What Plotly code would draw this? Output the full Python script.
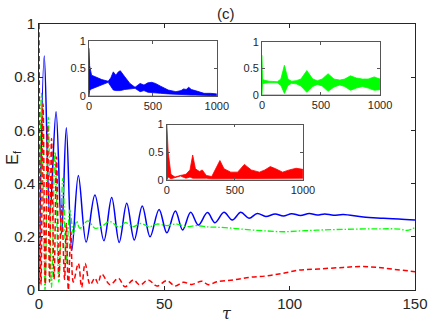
import plotly.graph_objects as go

# main panel: peaks / troughs
tau_blue = [0, 2.1, 4.3, 6.8, 9.0, 10.9, 13.1, 15.7, 18.8, 22.3, 25.9, 29.0, 32.0, 35.0, 38.0,
            41.2, 44.3, 47.9, 51.0, 54.4, 57.3, 60.5, 63.6, 67.2, 70.2, 73.8, 77.1, 80.5, 83.8,
            87.1, 90.5, 94.2, 97.5, 100.8, 104.3, 107.8, 111.0, 114.0, 117.5, 121.4, 129.4,
            137.4, 143.5, 150]
ef_blue = [0, 0.88, 0.28, 0.67, 0.21, 0.61, 0.15, 0.43, 0.18, 0.357, 0.185, 0.348, 0.179, 0.326,
           0.188, 0.316, 0.2, 0.303, 0.215, 0.297, 0.226, 0.292, 0.244, 0.291, 0.253, 0.292,
           0.263, 0.292, 0.27, 0.288, 0.276, 0.286, 0.278, 0.287, 0.28, 0.288, 0.282, 0.286,
           0.281, 0.284, 0.274, 0.27, 0.267, 0.263]

tau_green = [0, 1.0, 2.4, 3.7, 5.0, 6.4, 7.9, 9.5, 10.9, 12.3, 13.8, 15.0, 16.3, 19.5, 22.4,
             25.0, 28.3, 32.0, 34.5, 37.6, 40.5, 44.3, 47.0, 51.0, 55.0, 59.0, 63.0, 67.6, 71.0,
             77.6, 84.2, 91.0, 97.5, 104.0, 110.8, 121.4, 134.8, 144.0, 146.7, 148.5, 150]
ef_green = [0, 0.74, 0.0, 0.65, 0.01, 0.52, 0.03, 0.42, 0.10, 0.30, 0.21, 0.26, 0.232, 0.26,
            0.232, 0.24, 0.257, 0.236, 0.253, 0.238, 0.25, 0.238, 0.248, 0.242, 0.248, 0.238,
            0.242, 0.237, 0.236, 0.232, 0.226, 0.222, 0.219, 0.222, 0.225, 0.228, 0.23, 0.229,
            0.224, 0.228, 0.236]

tau_red = [0, 0.8, 1.6, 2.5, 3.4, 4.2, 5.0, 6.0, 7.0, 8.0, 9.0, 10.2, 10.9, 11.7, 12.7, 13.7,
           15.7, 17.0, 18.4, 20.4, 22.3, 23.5, 25.0, 28.3, 31.7, 34.3, 37.6, 40.3, 43.6, 47.0,
           51.0, 54.3, 57.6, 61.0, 65.0, 67.5, 71.0, 77.6, 84.2, 90.9, 97.5, 104.0, 111.5,
           121.4, 128.1, 134.8, 141.4, 150]
ef_red = [1.0, 0.02, 0.70, 0.02, 0.62, 0.03, 0.57, 0.04, 0.50, 0.05, 0.32, 0.04, 0.25, 0.0,
          0.22, 0.03, 0.10, 0.01, 0.10, 0.02, 0.045, 0.025, 0.06, 0.02, 0.044, 0.012, 0.038,
          0.019, 0.038, 0.015, 0.035, 0.015, 0.029, 0.021, 0.033, 0.02, 0.031, 0.038, 0.048,
          0.053, 0.063, 0.075, 0.079, 0.085, 0.088, 0.085, 0.078, 0.069]

# insets: upper / lower envelope of the fast oscillation
t_in_blue = [0, 5, 20, 60, 100, 150, 170, 190, 210, 230, 245, 280, 320, 360, 400, 430, 460,
             490, 520, 560, 620, 680, 720, 740, 760, 780, 800, 830, 900, 950, 1000]
up_in_blue = [0.87, 0.55, 0.38, 0.34, 0.3, 0.27, 0.33, 0.44, 0.38, 0.44, 0.46, 0.35, 0.23,
              0.16, 0.23, 0.2, 0.24, 0.25, 0.23, 0.18, 0.11, 0.08, 0.1, 0.13, 0.12, 0.16,
              0.12, 0.1, 0.05, 0.05, 0.04]
lo_in_blue = [0.0, 0.1, 0.13, 0.17, 0.2, 0.25, 0.18, 0.11, 0.1, 0.1, 0.1, 0.12, 0.13, 0.14,
              0.08, 0.1, 0.07, 0.06, 0.06, 0.05, 0.04, 0.03, 0.02, 0.02, 0.02, 0.02, 0.02,
              0.02, 0.01, 0.01, 0.01]

t_in_green = [0, 5, 15, 60, 130, 160, 190, 220, 250, 290, 330, 380, 430, 470, 510, 560, 610,
              660, 700, 750, 800, 850, 900, 950, 1000]
up_in_green = [0.75, 0.3, 0.28, 0.26, 0.25, 0.3, 0.56, 0.3, 0.26, 0.27, 0.3, 0.46, 0.3, 0.27,
               0.3, 0.4, 0.3, 0.28, 0.3, 0.36, 0.32, 0.3, 0.3, 0.34, 0.3]
lo_in_green = [0.0, 0.2, 0.22, 0.23, 0.23, 0.18, 0.03, 0.18, 0.22, 0.21, 0.17, 0.05, 0.16,
               0.2, 0.17, 0.07, 0.15, 0.19, 0.16, 0.09, 0.13, 0.16, 0.13, 0.09, 0.1]

t_in_red = [0, 10, 30, 60, 100, 140, 170, 190, 210, 240, 260, 290, 330, 360, 390, 420, 470,
            520, 570, 620, 680, 720, 760, 800, 850, 900, 950, 1000]
up_in_red = [1.0, 0.5, 0.1, 0.05, 0.08, 0.1, 0.18, 0.45, 0.2, 0.15, 0.18, 0.08, 0.06, 0.2,
             0.35, 0.2, 0.14, 0.14, 0.28, 0.18, 0.14, 0.18, 0.24, 0.2, 0.14, 0.18, 0.21, 0.19]
lo_in_red = [0.0, 0.05, 0.02, 0.04, 0.07, 0.03, 0.05, 0.03, 0.03, 0.04, 0.04, 0.03, 0.02,
             0.02, 0.02, 0.03, 0.03, 0.03, 0.03, 0.03, 0.03, 0.03, 0.03, 0.03, 0.03, 0.03,
             0.03, 0.03]

BLUE, GREEN, RED = "#0000ff", "#00ff00", "#ff0000"
FONT = "Liberation Sans"
AX = "#262626"

fig = go.Figure()

fig.add_trace(go.Scatter(x=tau_blue, y=ef_blue, mode="lines", line_shape="spline",
                         line=dict(color=BLUE, width=1.5)))
fig.add_trace(go.Scatter(x=tau_green, y=ef_green, mode="lines", line_shape="spline",
                         line=dict(color=GREEN, width=1.3, dash="6px,2px,1.5px,2px")))
fig.add_trace(go.Scatter(x=tau_red, y=ef_red, mode="lines", line_shape="spline",
                         line=dict(color=RED, width=1.5, dash="5px,3px")))


def add_band(t, lo, up, color, ax):
    fig.add_trace(go.Scatter(x=t, y=lo, mode="lines", line=dict(color=color, width=0.8),
                             xaxis="x" + ax, yaxis="y" + ax))
    fig.add_trace(go.Scatter(x=t, y=up, mode="lines", line=dict(color=color, width=0.8),
                             fill="tonexty", fillcolor=color, xaxis="x" + ax, yaxis="y" + ax))


add_band(t_in_blue, lo_in_blue, up_in_blue, BLUE, "2")
add_band(t_in_green, lo_in_green, up_in_green, GREEN, "3")
add_band(t_in_red, lo_in_red, up_in_red, RED, "4")

main_ax = dict(showline=True, linecolor=AX, linewidth=1, mirror="ticks", ticks="inside",
               ticklen=4, tickcolor=AX, showgrid=False, zeroline=False, automargin=False,
               tickfont=dict(family=FONT, size=15, color=AX))
fig.update_layout(
    xaxis=dict(main_ax, range=[0, 150], tickvals=[0, 50, 100, 150], domain=[0, 1]),
    yaxis=dict(main_ax, range=[0, 1], tickvals=[0, 0.2, 0.4, 0.6, 0.8, 1],
               ticktext=["0", "0.2", "0.4", "0.6", "0.8", "1"], domain=[0, 1]),
)

insets = {"2": ([0.133, 0.473], [0.729, 0.936]),
          "3": ([0.593, 0.907], [0.733, 0.933]),
          "4": ([0.340, 0.702], [0.414, 0.622])}
for k, (dx, dy) in insets.items():
    small = dict(showline=True, linecolor="#555555", linewidth=0.8, mirror="ticks",
                 ticks="inside", ticklen=3, tickcolor="#555555", showgrid=False,
                 automargin=False, tickfont=dict(family=FONT, size=11, color=AX))
    fig.update_layout({
        "xaxis" + k: dict(small, domain=dx, range=[0, 1000], tickvals=[0, 500, 1000],
                          anchor="y" + k, zeroline=False),
        "yaxis" + k: dict(small, domain=dy, range=[0, 1], tickvals=[0, 0.5, 1],
                          ticktext=["0", "0.5", "1"], anchor="x" + k, zeroline=True,
                          zerolinecolor="#c8c8c8", zerolinewidth=2),
    })

fig.add_annotation(x=0.497, y=1.038, xref="paper", yref="paper", text="(c)", showarrow=False,
                   xanchor="center", yanchor="middle",
                   font=dict(family=FONT, size=15, color=AX))
fig.add_annotation(x=0.5, y=-0.088, xref="paper", yref="paper", text="<i>τ</i>",
                   xanchor="center", yanchor="middle",
                   showarrow=False, font=dict(family="DejaVu Serif", size=16, color=AX))
fig.add_annotation(x=-0.07, y=0.5, xref="paper", yref="paper", text="E<sub>f</sub>",
                   xanchor="center", yanchor="middle",
                   textangle=-90, showarrow=False, font=dict(family=FONT, size=16, color=AX))

fig.update_layout(width=436, height=327, showlegend=False,
                  margin=dict(l=39, r=21, t=24, b=37),
                  paper_bgcolor="white", plot_bgcolor="white")

# page body has a default 8px margin; drop it so the figure sits at the window origin
fig.write_html("out.html", config={"displayModeBar": False},
               post_script="document.body.style.margin='0';")
